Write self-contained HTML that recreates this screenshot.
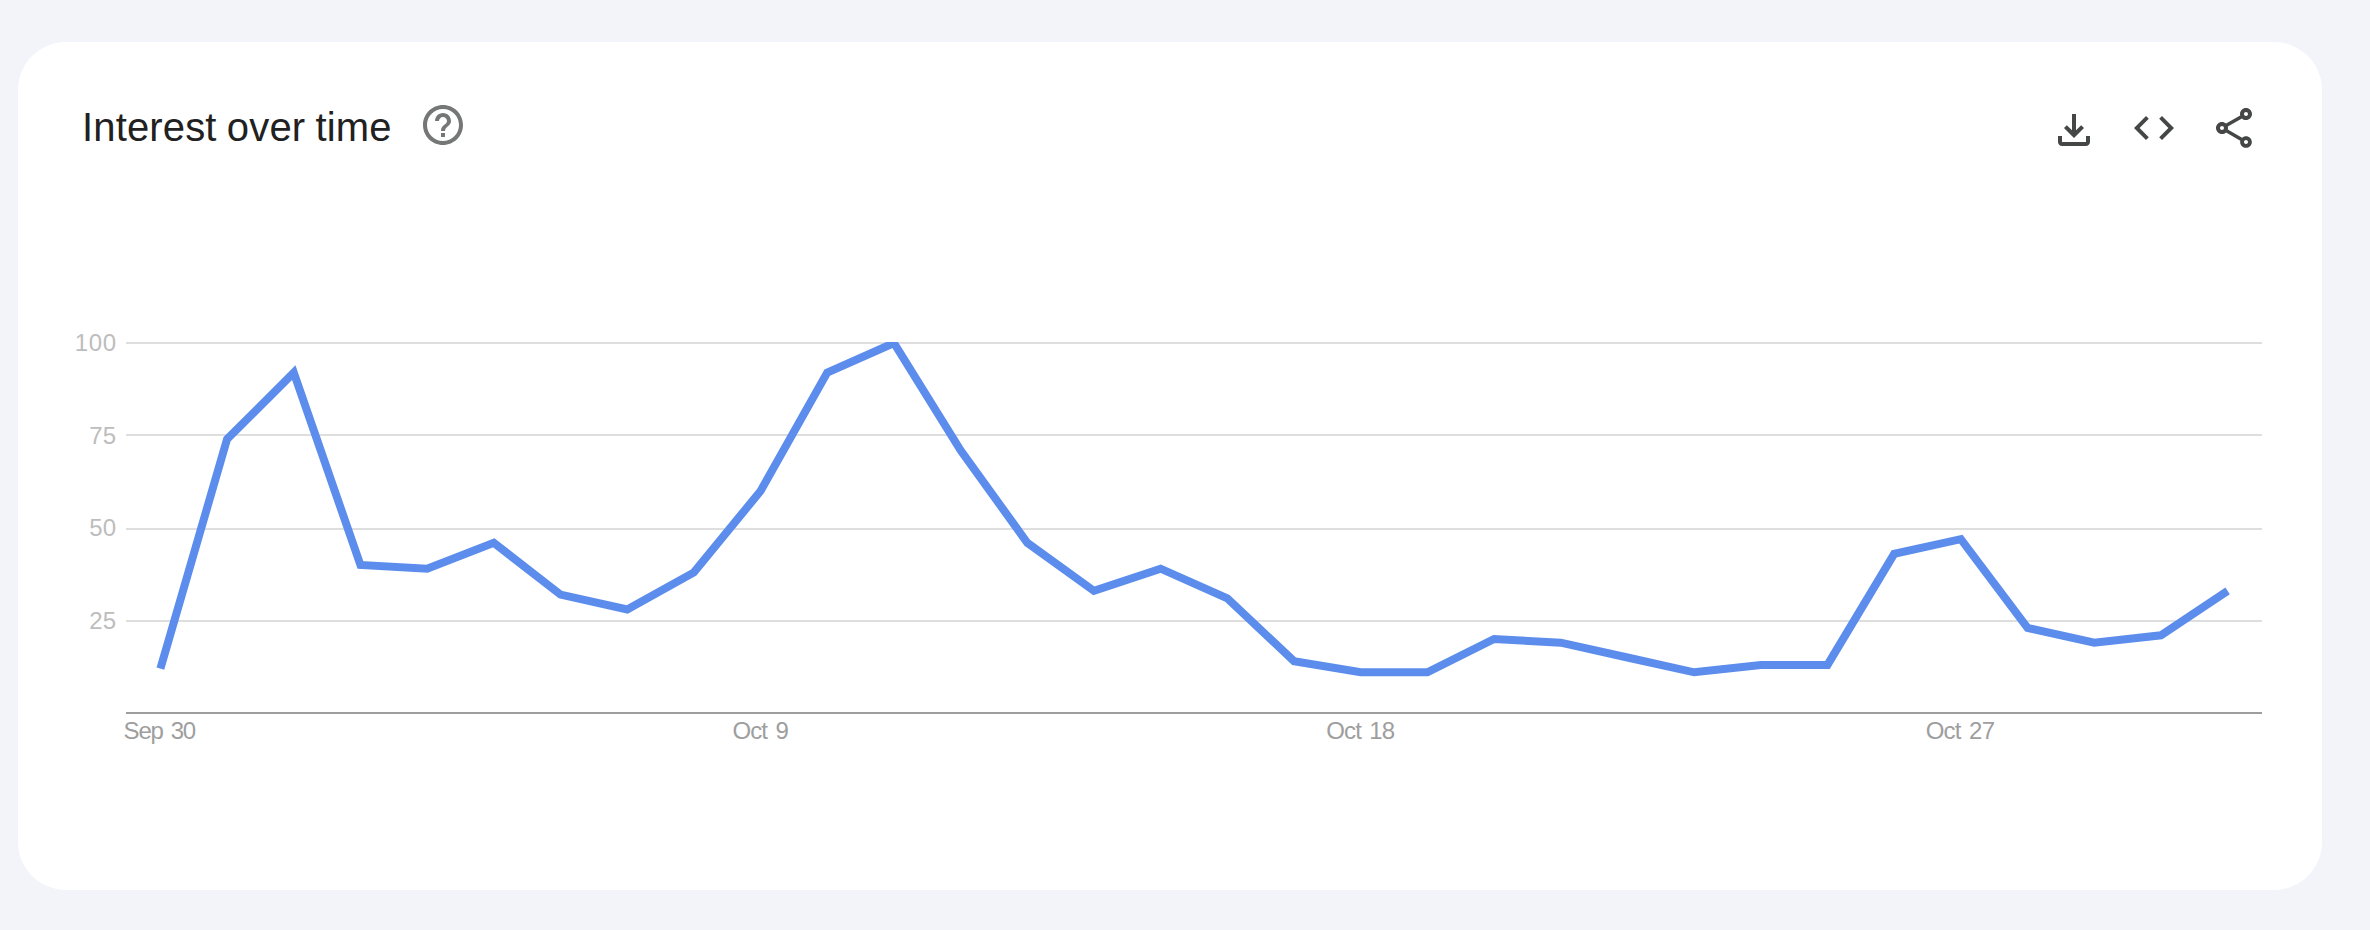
<!DOCTYPE html>
<html lang="en">
<head>
<meta charset="utf-8">
<title>Interest over time</title>
<style>
*{box-sizing:border-box;margin:0;padding:0}
html,body{width:2370px;height:930px;background:#f2f4f9}
@media (min-resolution:1.5dppx) and (max-width:1600px){html{zoom:0.5}}
body{position:relative;font-family:"Liberation Sans",sans-serif}
.card{position:absolute;left:18px;top:42px;width:2304px;height:848px;border-radius:48px;background:#fff}
.title{position:absolute;left:82px;top:103px;height:48px;line-height:48px;font-size:40px;letter-spacing:0.15px;word-spacing:-1px;color:#212121;white-space:nowrap}
.ic{position:absolute;width:48px;height:48px}
.ic svg{display:block;width:48px;height:48px}
.chart{position:absolute;left:0;top:0;width:2370px;height:930px}
.yl{position:absolute;width:100px;text-align:right;font-size:24px;line-height:24px;height:24px;color:#bdbdbd;left:16px;white-space:nowrap}
.xl{position:absolute;font-size:24px;line-height:24px;height:24px;color:#9e9e9e;top:719px;white-space:pre}
</style>
</head>
<body>
<div class="card"></div>
<div class="title">Interest over time</div>
<div class="ic" style="left:419px;top:101px"><svg viewBox="0 0 24 24"><path fill="#747775" d="M11 18h2v-2h-2v2zm1-16C6.48 2 2 6.480 2 12s4.480 10 10 10 10-4.480 10-10S17.520 2 12 2zm0 18c-4.410 0-8-3.590-8-8s3.590-8 8-8 8 3.590 8 8-3.590 8-8 8zm0-14c-2.210 0-4 1.790-4 4h2c0-1.100.900-2 2-2s2 .900 2 2c0 2-3 1.750-3 5h2c0-2.250 3-2.500 3-5 0-2.210-1.790-4-4-4z"/></svg></div>
<div class="ic" style="left:2050px;top:106px"><svg viewBox="0 0 24 24"><path fill="#444746" d="M18 15v3H6v-3H4v3c0 1.100.900 2 2 2h12c1.100 0 2-.900 2-2v-3h-2zm-1-4l-1.410-1.410L13 12.170V4h-2v8.170L8.410 9.590 7 11l5 5 5-5z"/></svg></div>
<div class="ic" style="left:2130px;top:104px"><svg viewBox="0 0 24 24"><path fill="#444746" d="M9.400 16.600L4.800 12l4.600-4.600L8 6l-6 6 6 6 1.400-1.400zm5.200 0l4.600-4.600-4.600-4.600L16 6l6 6-6 6-1.400-1.400z"/></svg></div>
<div class="ic" style="left:2210px;top:104px"><svg viewBox="0 0 24 24"><path fill="#444746" d="M18 16.080c-.760 0-1.440.300-1.960.770L8.910 12.700c.050-.230.090-.460.090-.700s-.040-.470-.090-.700l7.050-4.110c.540.500 1.250.810 2.040.810 1.660 0 3-1.340 3-3s-1.340-3-3-3-3 1.340-3 3c0 .240.040.470.090.700L8.040 9.810C7.500 9.310 6.790 9 6 9c-1.660 0-3 1.340-3 3s1.340 3 3 3c.790 0 1.500-.310 2.040-.810l7.120 4.160c-.050.210-.080.430-.080.650 0 1.610 1.310 2.920 2.920 2.920s2.920-1.310 2.920-2.920c0-1.610-1.310-2.920-2.920-2.920zM18 4c.550 0 1 .450 1 1s-.450 1-1 1-1-.450-1-1 .450-1 1-1zM6 13c-.550 0-1-.450-1-1s.450-1 1-1 1 .450 1 1-.450 1-1 1zm12 7.020c-.550 0-1-.450-1-1s.450-1 1-1 1 .450 1 1-.450 1-1 1z"/></svg></div>
<svg class="chart" viewBox="0 0 2370 930">
<defs><clipPath id="cp"><rect x="126" y="342" width="2136" height="372"/></clipPath></defs>
<g shape-rendering="crispEdges">
<rect x="126" y="342" width="2136" height="2" fill="#dedede"/>
<rect x="126" y="434" width="2136" height="2" fill="#dedede"/>
<rect x="126" y="528" width="2136" height="2" fill="#dedede"/>
<rect x="126" y="620" width="2136" height="2" fill="#dedede"/>
<rect x="126" y="712" width="2136" height="2" fill="#9e9e9e"/>
</g>
<g clip-path="url(#cp)">
<polyline fill="none" stroke="#5c8dec" stroke-width="8" stroke-linejoin="miter" stroke-linecap="butt" points="160.40,668.60 227.08,439.20 293.77,372.60 360.45,565.00 427.14,568.70 493.82,542.80 560.50,594.60 627.19,609.40 693.87,572.40 760.55,491.00 827.24,372.60 893.92,343.00 960.61,450.30 1027.29,542.80 1093.97,590.90 1160.66,568.70 1227.34,598.30 1294.03,661.20 1360.71,672.30 1427.39,672.30 1494.08,639.00 1560.76,642.70 1627.45,657.50 1694.13,672.30 1760.81,664.90 1827.50,664.90 1894.18,553.90 1960.86,539.10 2027.55,627.90 2094.23,642.70 2160.92,635.30 2227.60,590.90"/>
</g>
</svg>
<div class="yl" style="top:331px;letter-spacing:0.6px;left:16.6px">100</div>
<div class="yl" style="top:424px">75</div>
<div class="yl" style="top:516px">50</div>
<div class="yl" style="top:609px">25</div>
<div class="xl" style="left:123.6px;letter-spacing:-1.2px;word-spacing:2.5px">Sep 30</div>
<div class="xl" style="left:732.4px;letter-spacing:-0.9px;word-spacing:2.6px">Oct 9</div>
<div class="xl" style="left:1326.2px;letter-spacing:-0.8px;word-spacing:2.2px">Oct 18</div>
<div class="xl" style="left:1925.7px;letter-spacing:-0.8px;word-spacing:2.6px">Oct 27</div>
</body>
</html>
